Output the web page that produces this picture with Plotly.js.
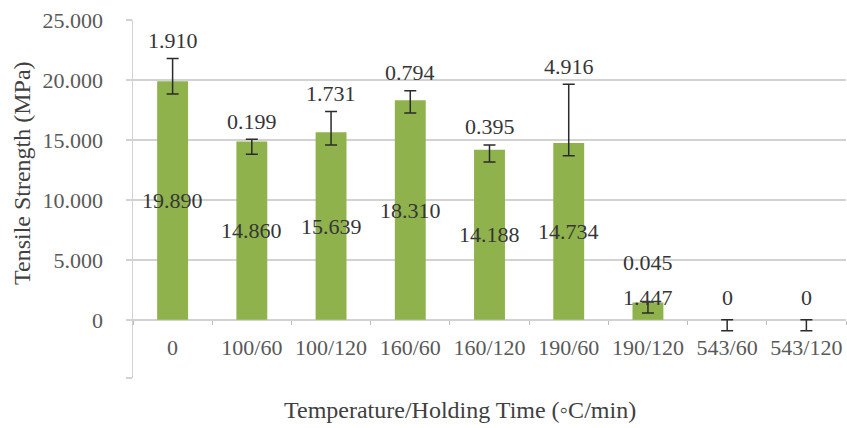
<!DOCTYPE html>
<html>
<head>
<meta charset="utf-8">
<script src="https://cdn.plot.ly/plotly-3.0.1.min.js"></script>
<style>
  html, body { margin: 0; padding: 0; background: #fff; }
  #chart { width: 847px; height: 428px; }
</style>
</head>
<body>
<div id="chart"></div>
<script>
// Tensile strength by heat treatment (temperature / holding time)
const categories = ['0', '100/60', '100/120', '160/60', '160/120', '190/60', '190/120', '543/60', '543/120'];
const strength   = [19.890, 14.860, 15.639, 18.310, 14.188, 14.734, 1.447, 0, 0];
const errPlus    = [1.910, 0.199, 1.731, 0.794, 0.395, 4.916, 0.045, 0, 0];
const errMinus   = [1.07, 1.06, 1.06, 1.06, 1.02, 1.06, 0.87, 0.9, 0.9];
const yTickVals  = [0, 5, 10, 15, 20, 25];
const yTickText  = ['0', '5.000', '10.000', '15.000', '20.000', '25.000'];

const Y_MIN = -4.85, Y_MAX = 25, FLOOR = -4.83;
const serif = 'Liberation Serif';
const gridGray = '#d2d2d2';
const W = 847, H = 428, M = { l: 133, r: 1, t: 20, b: 50 };
const plotW = W - M.l - M.r, plotH = H - M.t - M.b;

const fmt = v => (v === 0 ? '0' : v.toFixed(3));

const bars = {
  type: 'bar',
  x: categories,
  y: strength,
  width: 0.39,
  marker: { color: '#8fb24c' },
  error_y: {
    type: 'data',
    symmetric: false,
    array: errPlus,
    arrayminus: errMinus,
    color: '#2b2b2b',
    thickness: 1.5,
    width: 6
  },
  hoverinfo: 'x+y'
};

// value labels sit mid-bar (with a floor for short bars); spread labels above the error bars
const annotations = [];
categories.forEach((c, i) => {
  const midY = Math.max(strength[i] / 2, 1.9);
  annotations.push({
    x: c, y: midY, xref: 'x', yref: 'y', showarrow: false,
    text: fmt(strength[i]), yanchor: 'middle',
    font: { family: serif, size: 22, color: '#363636' }
  });
  if (strength[i] > 0) {
    const topY = Math.max(strength[i] + errPlus[i] + 1.5, midY + 2.85);
    annotations.push({
      x: c, y: topY, xref: 'x', yref: 'y', showarrow: false,
      text: fmt(errPlus[i]), yanchor: 'middle',
      font: { family: serif, size: 22, color: '#363636' }
    });
  }
});

// axis titles
annotations.push({
  xref: 'paper', yref: 'paper', x: (460 - M.l) / plotW, y: 0, yshift: -32,
  xanchor: 'center', yanchor: 'middle', showarrow: false,
  text: 'Temperature/Holding Time (◦C/min)',
  font: { family: serif, size: 24, color: '#404040' }
});
annotations.push({
  xref: 'paper', yref: 'paper', x: (22 - M.l) / plotW, y: (H - M.b - 173) / plotH,
  xanchor: 'center', yanchor: 'middle', showarrow: false, textangle: -90,
  text: 'Tensile Strength (MPa)',
  font: { family: serif, size: 24, color: '#404040' }
});

const layout = {
  width: W, height: H,
  margin: M,
  paper_bgcolor: '#fff', plot_bgcolor: '#fff',
  showlegend: false,
  font: { family: serif },
  xaxis: {
    type: 'category',
    anchor: 'free',
    position: (0 - Y_MIN) / (Y_MAX - Y_MIN),
    showline: false,
    showgrid: false,
    ticks: 'outside', tickson: 'boundaries', ticklen: 4,
    tickcolor: '#bcbcbc', tickwidth: 1,
    tickangle: 0,
    ticklabelstandoff: 12,
    tickfont: { family: serif, size: 22, color: '#595959' },
    fixedrange: true
  },
  yaxis: {
    range: [Y_MIN, Y_MAX],
    tickmode: 'array',
    tickvals: [FLOOR].concat(yTickVals),
    ticktext: [''].concat(yTickText),
    showgrid: true, gridcolor: gridGray, gridwidth: 1.5,
    zeroline: false,
    showline: true, linecolor: gridGray, linewidth: 1.5,
    ticks: 'outside', ticklen: 6, tickcolor: gridGray, tickwidth: 1.5,
    ticklabelstandoff: 18,
    tickfont: { family: serif, size: 22, color: '#595959' },
    fixedrange: true
  },
  annotations: annotations
};

Plotly.newPlot('chart', [bars], layout, { displayModeBar: false, staticPlot: true });
</script>
</body>
</html>
